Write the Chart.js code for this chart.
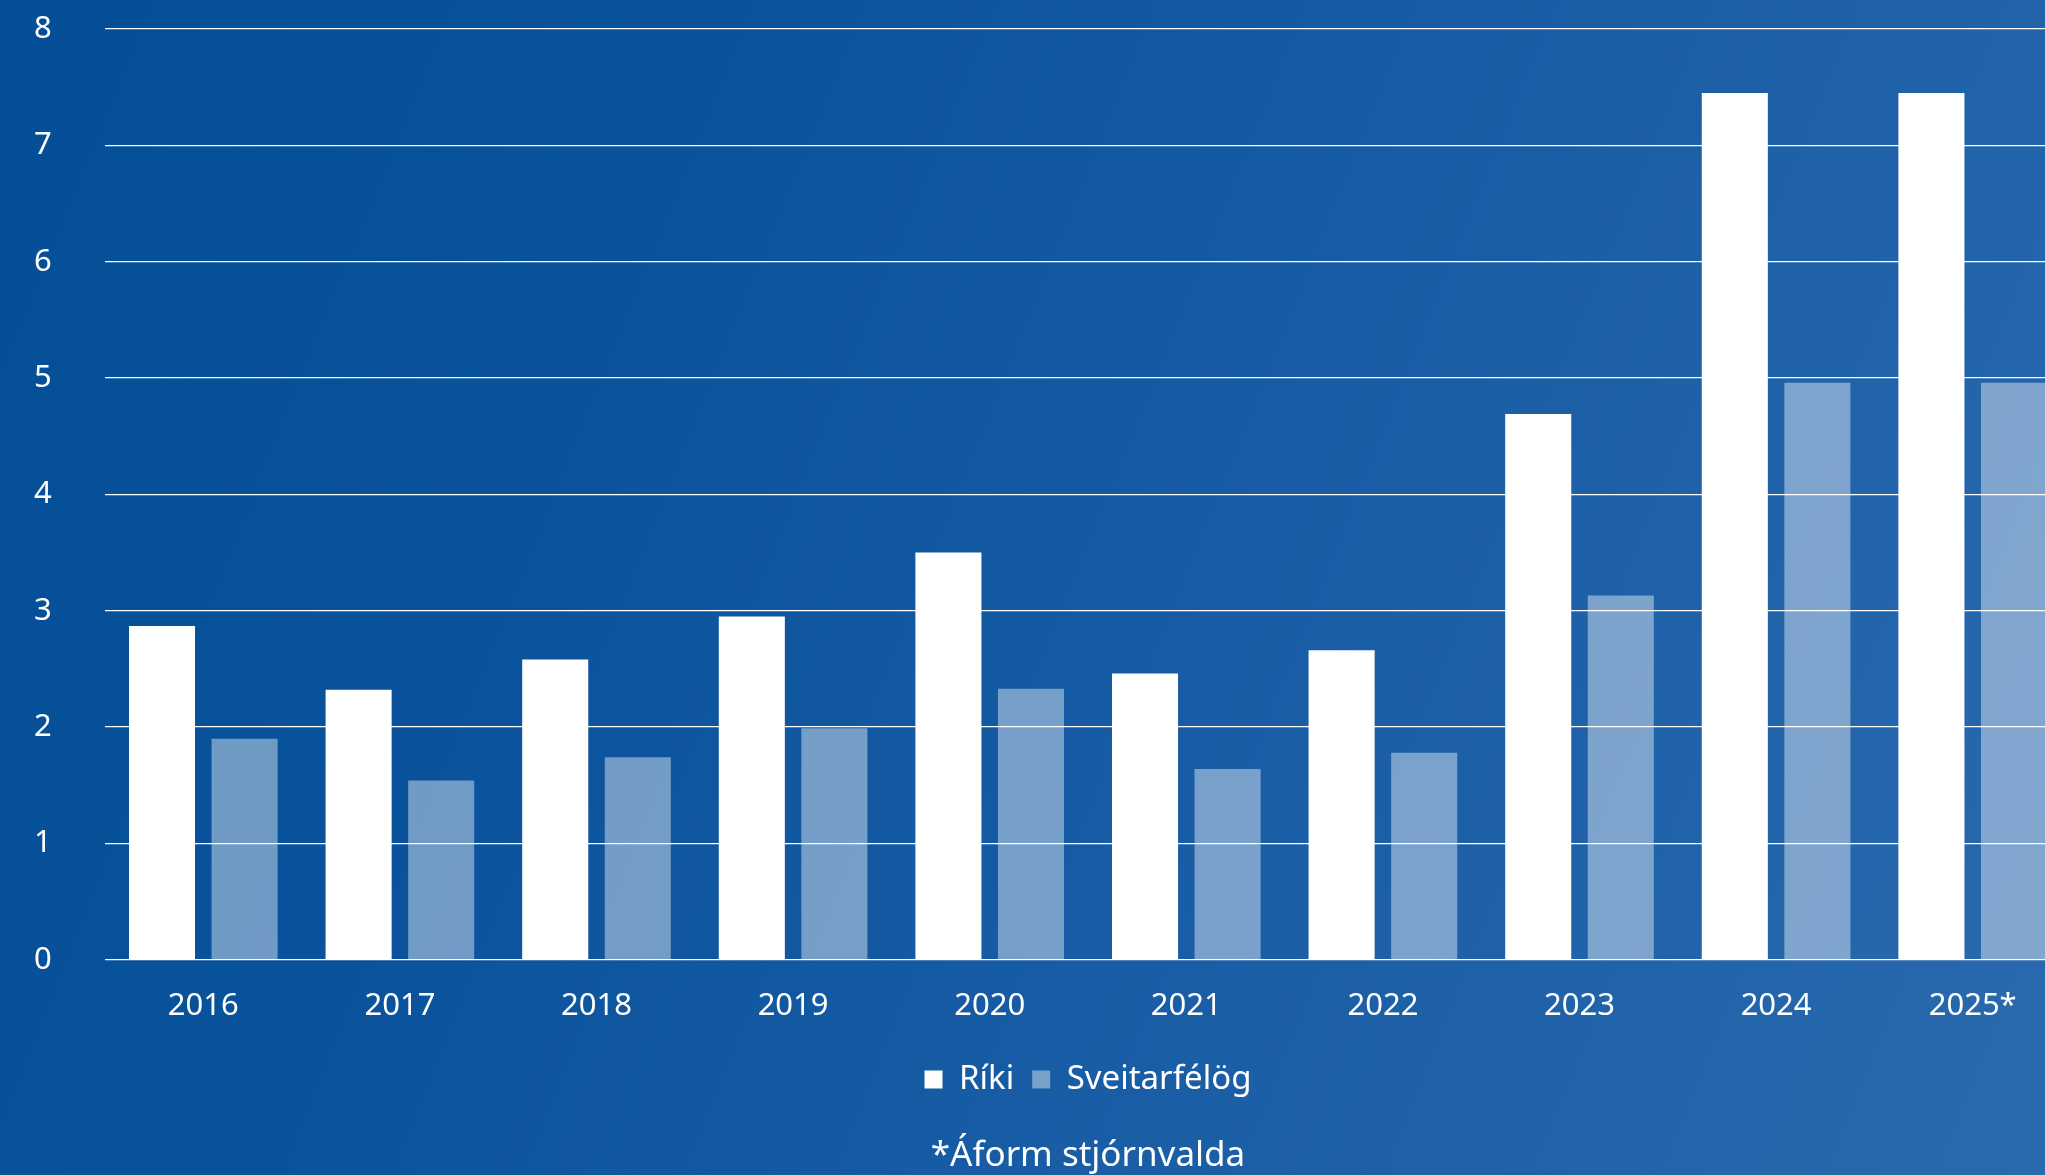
<!DOCTYPE html>
<html lang="is">
<head>
<meta charset="utf-8">
<title>Ríki og sveitarfélög</title>
<script src="https://cdn.jsdelivr.net/npm/chart.js@4"></script>
<style>
  html, body {
    margin: 0;
    padding: 0;
    width: 2045px;
    height: 1175px;
    overflow: hidden;
    background: linear-gradient(112deg, #034e96 0%, #0a539c 30%, #1a5ea6 65%, #2a6aae 100%);
  }
  #wrap {
    position: absolute;
    left: 0;
    top: 0;
    width: 2071px;
    height: 1175px;
  }
</style>
</head>
<body>
<div id="wrap"><canvas id="chart"></canvas></div>
<script>
// Ár og gildi
const ar = ['2016', '2017', '2018', '2019', '2020', '2021', '2022', '2023', '2024', '2025*'];
const riki = [2.87, 2.32, 2.58, 2.95, 3.50, 2.46, 2.66, 4.69, 7.45, 7.45];
const sveitarfelog = [1.90, 1.54, 1.74, 1.99, 2.33, 1.64, 1.78, 3.13, 4.96, 4.96];
const yTicks = [0, 1, 2, 3, 4, 5, 6, 7, 8];

const letur = "'Noto Sans', 'Open Sans', sans-serif";
Chart.defaults.font.family = letur;
Chart.defaults.color = '#ffffff';

const ctx = document.getElementById('chart').getContext('2d');
new Chart(ctx, {
    type: 'bar',
    data: {
        labels: ar,
        datasets: [{
            label: 'Ríki',
            data: riki,
            backgroundColor: '#ffffff',
            borderWidth: 0
        }, {
            label: 'Sveitarfélög',
            data: sveitarfelog,
            backgroundColor: 'rgba(255, 255, 255, 0.42)',
            borderWidth: 0
        }]
    },
    options: {
        responsive: true,
        maintainAspectRatio: false,
        animation: false,
        categoryPercentage: 0.84,
        barPercentage: 0.8,
        layout: { padding: { top: 29, left: 34, right: 0, bottom: 0 } },
        scales: {
            x: {
                grid: { display: false },
                border: { display: false },
                ticks: { font: { size: 31 }, padding: 20, color: '#ffffff' }
            },
            y: {
                min: 0,
                max: 8,
                // y-ásinn nær frá vinstri brún að x = 105
                afterFit: scale => { scale.width = 71; },
                afterBuildTicks: scale => { scale.ticks = yTicks.map(v => ({ value: v })); },
                grid: { color: '#ffffff', lineWidth: 1.2, drawTicks: false, tickLength: 0 },
                border: { display: false },
                ticks: { font: { size: 31 }, padding: 0, crossAlign: 'far', color: '#ffffff' }
            }
        },
        plugins: {
            legend: {
                position: 'bottom',
                fullSize: false,
                labels: {
                    boxWidth: 18,
                    boxHeight: 18,
                    padding: 18,
                    font: { size: 33 },
                    color: '#ffffff'
                }
            },
            title: {
                display: true,
                position: 'bottom',
                fullSize: false,
                text: '*Áform stjórnvalda',
                color: '#ffffff',
                font: { size: 35, weight: 'normal' },
                padding: { top: 29, bottom: -2 }
            },
            tooltip: { enabled: false }
        }
    }
});
</script>
</body>
</html>
